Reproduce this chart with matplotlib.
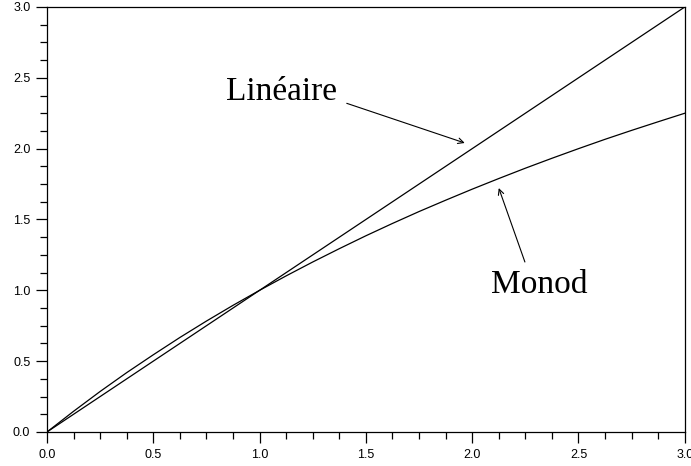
import numpy as np
import matplotlib.pyplot as plt
from matplotlib.ticker import MultipleLocator, FormatStrFormatter

# substrate concentration samples
s = [0.0, 0.125, 0.25, 0.375, 0.5, 0.625, 0.75, 0.875, 1.0, 1.125, 1.25,
     1.375, 1.5, 1.625, 1.75, 1.875, 2.0, 2.125, 2.25, 2.375, 2.5, 2.625,
     2.75, 2.875, 3.0]
# linear growth law
lin = [0.0, 0.125, 0.25, 0.375, 0.5, 0.625, 0.75, 0.875, 1.0, 1.125, 1.25,
       1.375, 1.5, 1.625, 1.75, 1.875, 2.0, 2.125, 2.25, 2.375, 2.5, 2.625,
       2.75, 2.875, 3.0]
# Monod growth law
monod = [0.0, 0.146, 0.286, 0.419, 0.545, 0.667, 0.783, 0.894, 1.0, 1.102,
         1.2, 1.294, 1.385, 1.472, 1.556, 1.636, 1.714, 1.789, 1.862, 1.932,
         2.0, 2.066, 2.129, 2.19, 2.25]

fig = plt.figure(figsize=(6.91, 4.66), dpi=100)
ax = fig.add_axes([0.068, 0.073, 0.923, 0.912])

ax.plot(s, lin, color='black', lw=0.9)
ax.plot(s, monod, color='black', lw=0.9)

ax.set_xlim(0, 3)
ax.set_ylim(0, 3)

ax.xaxis.set_major_locator(MultipleLocator(0.5))
ax.xaxis.set_minor_locator(MultipleLocator(0.125))
ax.yaxis.set_major_locator(MultipleLocator(0.5))
ax.yaxis.set_minor_locator(MultipleLocator(0.125))
ax.xaxis.set_major_formatter(FormatStrFormatter('%.1f'))
ax.yaxis.set_major_formatter(FormatStrFormatter('%.1f'))

ax.tick_params(which='major', direction='out', length=8, width=0.9,
               labelsize=9, pad=4)
ax.tick_params(which='minor', direction='out', length=5, width=0.9)
ax.tick_params(top=False, right=False)
for lab in ax.get_xticklabels() + ax.get_yticklabels():
    lab.set_family('Liberation Sans')
for sp in ax.spines.values():
    sp.set_linewidth(0.9)

# curve labels with pointer arrows
serif = dict(family='Liberation Serif', fontsize=24, ha='center', va='center')
arrow = dict(arrowstyle='->', lw=0.8, color='black',
             shrinkA=0, shrinkB=0, mutation_scale=10)

ax.text(1.105, 2.40, 'Linéaire', **serif)
ax.annotate('', xy=(1.965, 2.04), xytext=(1.41, 2.32), arrowprops=arrow)

ax.text(2.316, 1.04, 'Monod', **serif)
ax.annotate('', xy=(2.125, 1.722), xytext=(2.248, 1.2), arrowprops=arrow)

fig.savefig('out.png', dpi=100)
